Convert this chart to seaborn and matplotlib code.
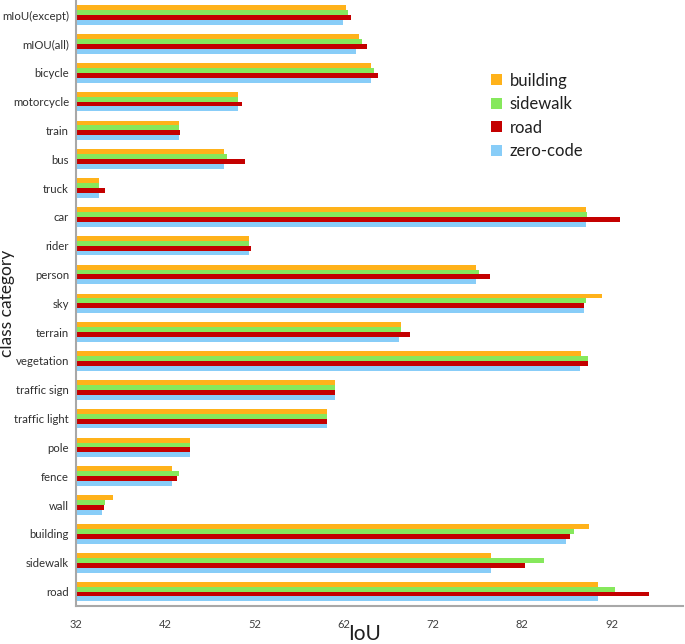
import matplotlib
matplotlib.use("Agg")
import matplotlib.pyplot as plt
import seaborn as sns
import pandas as pd

# classes, top to bottom as drawn
categories = ["mIoU(except)", "mIOU(all)", "bicycle", "motorcycle", "train", "bus",
              "truck", "car", "rider", "person", "sky", "terrain", "vegetation",
              "traffic sign", "traffic light", "pole", "fence", "wall", "building",
              "sidewalk", "road"]

series = ["building", "sidewalk", "road", "zero-code"]

building = [62.2, 63.7, 65.1, 50.1, 43.5, 48.6, 34.6, 89.1, 51.4, 76.8, 90.9, 68.4,
            88.6, 61.0, 60.1, 44.8, 42.8, 36.1, 89.5, 78.5, 90.5]
sidewalk = [62.5, 64.0, 65.4, 50.1, 43.5, 48.9, 34.6, 89.2, 51.4, 77.2, 89.1, 68.4,
            89.4, 61.0, 60.1, 44.8, 43.5, 35.3, 87.8, 84.4, 92.4]
road = [62.8, 64.6, 65.8, 50.6, 43.7, 50.9, 35.3, 92.9, 51.6, 78.4, 88.9, 69.4,
        89.4, 61.0, 60.1, 44.8, 43.3, 35.1, 87.3, 82.3, 96.2]
zero_code = [61.9, 63.4, 65.1, 50.1, 43.5, 48.6, 34.6, 89.1, 51.4, 76.8, 88.9, 68.2,
             88.5, 61.0, 60.1, 44.8, 42.8, 34.9, 86.9, 78.5, 90.5]

colors = ["#FFB21A", "#86E85C", "#C40000", "#88CDF8"]

rows = []
for name, vals in zip(series, [building, sidewalk, road, zero_code]):
    for cat, v in zip(categories, vals):
        rows.append({"category": cat, "series": name, "IoU": v})
df = pd.DataFrame(rows)

sns.set_style("white")
plt.rcParams["font.family"] = ["Lato", "DejaVu Sans"]

fig = plt.figure(figsize=(6.85, 6.44), dpi=100)
ax = fig.add_axes([0.111, 0.059, 0.886, 0.94])

sns.barplot(data=df, y="category", x="IoU", hue="series", order=categories,
            hue_order=series, palette=colors, orient="h", width=0.68,
            saturation=1, linewidth=0, ax=ax)

ax.set_xlim(32, 100)
ax.set_ylim(len(categories) - 0.5, -0.5)
ax.set_xticks([32, 42, 52, 62, 72, 82, 92])
ax.tick_params(axis="x", direction="out", length=4, width=1, color="#A0A0A0",
               labelsize=8, labelcolor="#404040", pad=5)
ax.tick_params(axis="y", length=0, labelsize=8.2, labelcolor="#303030", pad=5)

sns.despine(ax=ax, top=True, right=True)
for side in ["left", "bottom"]:
    ax.spines[side].set_color("#A8A8A8")
    ax.spines[side].set_linewidth(1.5)

ax.set_xlabel("IoU", fontsize=15, color="#202020")
ax.xaxis.set_label_coords(0.476, -0.03)
ax.set_ylabel("class category", fontsize=12.5, color="#202020")
ax.yaxis.set_label_coords(-0.1, 0.5)

leg = ax.legend(loc="upper left", bbox_to_anchor=(0.705, 0.9),
                bbox_transform=fig.transFigure, frameon=False, fontsize=12,
                handlelength=0.65, handleheight=0.65, handletextpad=0.45,
                labelspacing=0.45, borderpad=0)
for t in leg.get_texts():
    t.set_color("#202020")

fig.savefig("out.png", dpi=100)
